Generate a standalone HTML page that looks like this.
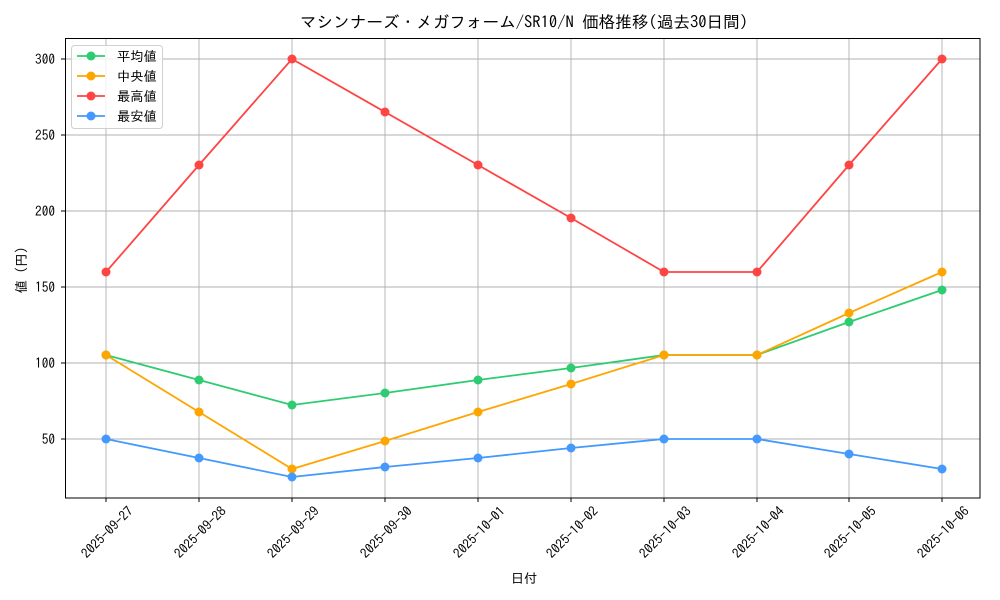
<!DOCTYPE html>
<html><head><meta charset="utf-8"><style>body{margin:0;background:#fff}svg{display:block}text{font-family:"IPAGothic","Noto Sans CJK JP",sans-serif;fill:#000}</style></head><body>
<svg width="1000" height="600" xmlns="http://www.w3.org/2000/svg">
<rect width="1000" height="600" fill="#fff"/>
<text x="524" y="28" font-size="16.6" text-anchor="middle">マシンナーズ・メガフォーム/SR10/N 価格推移(過去30日間)</text>
<g stroke="#b0b0b0" stroke-width="0.9">
<line x1="65.5" x2="980" y1="59" y2="59"/><line x1="65.5" x2="980" y1="135" y2="135"/><line x1="65.5" x2="980" y1="211" y2="211"/><line x1="65.5" x2="980" y1="287" y2="287"/><line x1="65.5" x2="980" y1="363" y2="363"/><line x1="65.5" x2="980" y1="439" y2="439"/>
<line x1="106" x2="106" y1="38" y2="498"/><line x1="199" x2="199" y1="38" y2="498"/><line x1="292" x2="292" y1="38" y2="498"/><line x1="385" x2="385" y1="38" y2="498"/><line x1="478" x2="478" y1="38" y2="498"/><line x1="571" x2="571" y1="38" y2="498"/><line x1="664" x2="664" y1="38" y2="498"/><line x1="757" x2="757" y1="38" y2="498"/><line x1="849" x2="849" y1="38" y2="498"/><line x1="942" x2="942" y1="38" y2="498"/>
</g>
<g stroke="#000"><line x1="61" x2="65" y1="59" y2="59"/><line x1="61" x2="65" y1="135" y2="135"/><line x1="61" x2="65" y1="211" y2="211"/><line x1="61" x2="65" y1="287" y2="287"/><line x1="61" x2="65" y1="363" y2="363"/><line x1="61" x2="65" y1="439" y2="439"/>
<line x1="106" x2="106" y1="498" y2="502"/><line x1="199" x2="199" y1="498" y2="502"/><line x1="292" x2="292" y1="498" y2="502"/><line x1="385" x2="385" y1="498" y2="502"/><line x1="478" x2="478" y1="498" y2="502"/><line x1="571" x2="571" y1="498" y2="502"/><line x1="664" x2="664" y1="498" y2="502"/><line x1="757" x2="757" y1="498" y2="502"/><line x1="849" x2="849" y1="498" y2="502"/><line x1="942" x2="942" y1="498" y2="502"/></g>
<g font-size="13.3" text-anchor="end"><text x="55" y="64">300</text><text x="55" y="140">250</text><text x="55" y="216">200</text><text x="55" y="292">150</text><text x="55" y="368">100</text><text x="55" y="444">50</text></g>
<g font-size="13.3" text-anchor="end">
<text transform="translate(134,512) rotate(-45)">2025-09-27</text>
<text transform="translate(227,512) rotate(-45)">2025-09-28</text>
<text transform="translate(320,512) rotate(-45)">2025-09-29</text>
<text transform="translate(413,512) rotate(-45)">2025-09-30</text>
<text transform="translate(506,512) rotate(-45)">2025-10-01</text>
<text transform="translate(599,512) rotate(-45)">2025-10-02</text>
<text transform="translate(692,512) rotate(-45)">2025-10-03</text>
<text transform="translate(785,512) rotate(-45)">2025-10-04</text>
<text transform="translate(877,512) rotate(-45)">2025-10-05</text>
<text transform="translate(970,512) rotate(-45)">2025-10-06</text>
</g>
<text x="524" y="583" font-size="13.3" text-anchor="middle">日付</text>
<text transform="translate(26,270) rotate(-90)" font-size="13.3" text-anchor="middle">値 (円)</text>
<g fill="none" stroke-width="1.8">
<polyline stroke="#2ecc71" points="106,355 199,380 292,405 385,393 478,380 571,368 664,355 757,355 849,322 942,290"/>
<polyline stroke="#ffa500" points="106,355 199,412 292,469 385,441 478,412 571,384 664,355 757,355 849,313 942,272"/>
<polyline stroke="#ff4444" points="106,272 199,165 292,59 385,112 478,165 571,218 664,272 757,272 849,165 942,59"/>
<polyline stroke="#4499ff" points="106,439 199,458 292,477 385,467 478,458 571,448 664,439 757,439 849,454 942,469"/>
</g>
<g fill="#2ecc71"><circle cx="106" cy="355" r="4.5"/><circle cx="199" cy="380" r="4.5"/><circle cx="292" cy="405" r="4.5"/><circle cx="385" cy="393" r="4.5"/><circle cx="478" cy="380" r="4.5"/><circle cx="571" cy="368" r="4.5"/><circle cx="664" cy="355" r="4.5"/><circle cx="757" cy="355" r="4.5"/><circle cx="849" cy="322" r="4.5"/><circle cx="942" cy="290" r="4.5"/></g>
<g fill="#ffa500"><circle cx="106" cy="355" r="4.5"/><circle cx="199" cy="412" r="4.5"/><circle cx="292" cy="469" r="4.5"/><circle cx="385" cy="441" r="4.5"/><circle cx="478" cy="412" r="4.5"/><circle cx="571" cy="384" r="4.5"/><circle cx="664" cy="355" r="4.5"/><circle cx="757" cy="355" r="4.5"/><circle cx="849" cy="313" r="4.5"/><circle cx="942" cy="272" r="4.5"/></g>
<g fill="#ff4444"><circle cx="106" cy="272" r="4.5"/><circle cx="199" cy="165" r="4.5"/><circle cx="292" cy="59" r="4.5"/><circle cx="385" cy="112" r="4.5"/><circle cx="478" cy="165" r="4.5"/><circle cx="571" cy="218" r="4.5"/><circle cx="664" cy="272" r="4.5"/><circle cx="757" cy="272" r="4.5"/><circle cx="849" cy="165" r="4.5"/><circle cx="942" cy="59" r="4.5"/></g>
<g fill="#4499ff"><circle cx="106" cy="439" r="4.5"/><circle cx="199" cy="458" r="4.5"/><circle cx="292" cy="477" r="4.5"/><circle cx="385" cy="467" r="4.5"/><circle cx="478" cy="458" r="4.5"/><circle cx="571" cy="448" r="4.5"/><circle cx="664" cy="439" r="4.5"/><circle cx="757" cy="439" r="4.5"/><circle cx="849" cy="454" r="4.5"/><circle cx="942" cy="469" r="4.5"/></g>
<rect x="65.5" y="38.5" width="914.5" height="459.5" fill="none" stroke="#000" stroke-width="1"/>
<rect x="71.5" y="45.5" width="91" height="83" rx="3" fill="#fff" fill-opacity="0.8" stroke="#d0d0d0"/>
<g stroke-width="1.8">
<line x1="77" x2="105" y1="56" y2="56" stroke="#2ecc71"/><circle cx="91" cy="56" r="4.5" fill="#2ecc71"/>
<line x1="77" x2="105" y1="76" y2="76" stroke="#ffa500"/><circle cx="91" cy="76" r="4.5" fill="#ffa500"/>
<line x1="77" x2="105" y1="96" y2="96" stroke="#ff4444"/><circle cx="91" cy="96" r="4.5" fill="#ff4444"/>
<line x1="77" x2="105" y1="116" y2="116" stroke="#4499ff"/><circle cx="91" cy="116" r="4.5" fill="#4499ff"/>
</g>
<g font-size="13.3"><text x="117" y="61">平均値</text><text x="117" y="81">中央値</text><text x="117" y="101">最高値</text><text x="117" y="121">最安値</text></g>
</svg>
</body></html>
